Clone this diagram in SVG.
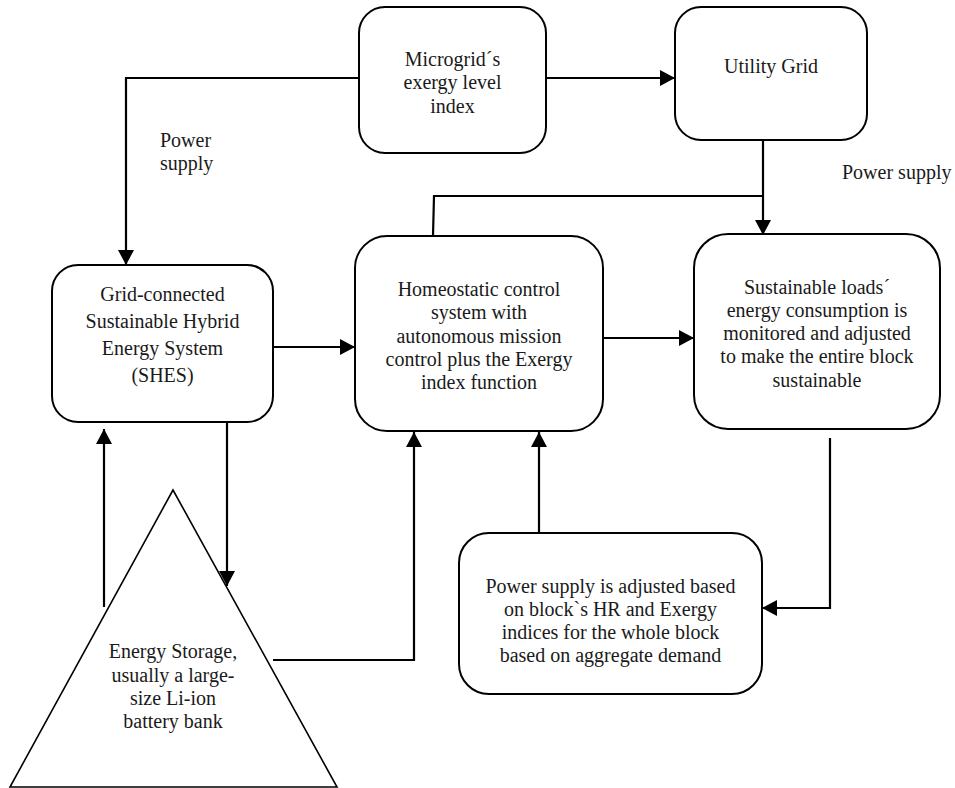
<svg xmlns="http://www.w3.org/2000/svg" width="955" height="788" viewBox="0 0 955 788">
<defs>
<marker id="ah" markerUnits="userSpaceOnUse" markerWidth="15" markerHeight="16" refX="15" refY="8" orient="auto">
<path d="M0,0 L15,8 L0,16 z" fill="#000"/>
</marker>
<style>
.box{fill:#fff;stroke:#000;stroke-width:2}
.tri{fill:#fff;stroke:#000;stroke-width:1.6}
.c{fill:none;stroke:#000;stroke-width:2.2}
.a{marker-end:url(#ah)}
text{font-family:"Liberation Serif","Times New Roman","DejaVu Serif",serif;font-size:20px;fill:#1a1a1a}
.m{text-anchor:middle}
</style>
</defs>
<rect width="955" height="788" fill="#fff"/>
<g id="connectors">
<path class="c a" d="M359,78 H126 V265"/>
<path class="c a" d="M546,78 H675"/>
<path class="c a" d="M763,140 V235"/>
<path class="c" d="M763,196 H434 L433,236"/>
<path class="c a" d="M273,347 H355"/>
<path class="c a" d="M603,338 H694"/>
<path class="c a" d="M104,607 V429"/>
<path class="c a" d="M227,422 V586"/>
<path class="c a" d="M273,660 H414 V432"/>
<path class="c a" d="M539,533 V432"/>
<path class="c a" d="M830,438 V608 H762"/>
</g>
<g id="label-power-supply-left">
<text x="160" y="147">Power</text>
<text x="160" y="170">supply</text>
</g>
<g id="label-power-supply-right">
<text x="842" y="179">Power supply</text>
</g>
<g id="microgrid">
<rect class="box" x="359" y="7" width="187" height="146" rx="26"/>
<text class="m" x="452.5" y="66">Microgrid´s</text>
<text class="m" x="452.5" y="89">exergy level</text>
<text class="m" x="452.5" y="113">index</text>
</g>
<g id="utility">
<rect class="box" x="675" y="7" width="192" height="133" rx="26"/>
<text class="m" x="771" y="73">Utility Grid</text>
</g>
<g id="shes">
<rect class="box" x="52" y="265" width="221" height="157" rx="26"/>
<text class="m" x="162.5" y="301">Grid-connected</text>
<text class="m" x="162.5" y="328">Sustainable Hybrid</text>
<text class="m" x="162.5" y="355">Energy System</text>
<text class="m" x="162.5" y="382">(SHES)</text>
</g>
<g id="homeostatic">
<rect class="box" x="355" y="236" width="248" height="195" rx="32"/>
<text class="m" x="479" y="296">Homeostatic control</text>
<text class="m" x="479" y="319">system with</text>
<text class="m" x="479" y="343">autonomous mission</text>
<text class="m" x="479" y="366">control plus the Exergy</text>
<text class="m" x="479" y="389">index function</text>
</g>
<g id="sustainable">
<rect class="box" x="694" y="234" width="246" height="195" rx="34"/>
<text class="m" x="817" y="294">Sustainable loads´</text>
<text class="m" x="817" y="317">energy consumption is</text>
<text class="m" x="817" y="340">monitored and adjusted</text>
<text class="m" x="817" y="363">to make the entire block</text>
<text class="m" x="817" y="387">sustainable</text>
</g>
<g id="storage">
<polygon class="tri" points="173,490 10,787 337,787"/>
<text class="m" x="173" y="658">Energy Storage,</text>
<text class="m" x="173" y="682">usually a large-</text>
<text class="m" x="173" y="705">size Li-ion</text>
<text class="m" x="173" y="728">battery bank</text>
</g>
<g id="power-adjust">
<rect class="box" x="459" y="533" width="303" height="161" rx="30"/>
<text class="m" x="610.5" y="593">Power supply is adjusted based</text>
<text class="m" x="610.5" y="616">on block`s HR and Exergy</text>
<text class="m" x="610.5" y="639">indices for the whole block</text>
<text class="m" x="610.5" y="662">based on aggregate demand</text>
</g>
</svg>
